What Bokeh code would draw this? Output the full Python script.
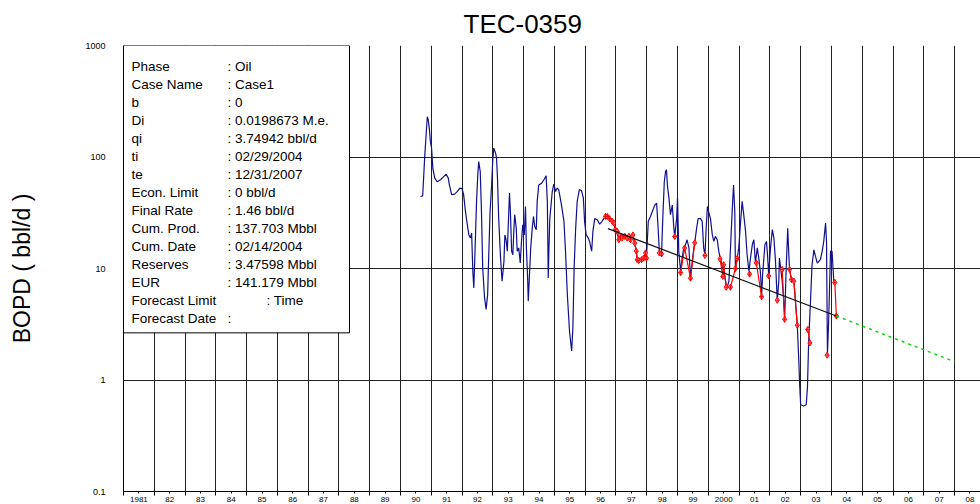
import math

from bokeh.core.properties import value
from bokeh.embed import file_html
from bokeh.models import FixedTicker, Range1d
from bokeh.plotting import figure
from bokeh.resources import INLINE

# ---------------- well production history (decimal year, bbl/d) ----------------
blue_t = [
    1990.65, 1990.72, 1990.79, 1990.87, 1990.90, 1990.94, 1990.97, 1991.01, 1991.05, 1991.11,
    1991.19, 1991.30, 1991.41, 1991.48, 1991.55, 1991.59, 1991.66, 1991.76, 1991.84, 1991.93,
    1992.00, 1992.05, 1992.11, 1992.17, 1992.22, 1992.27, 1992.31, 1992.35, 1992.38, 1992.41,
    1992.47, 1992.51, 1992.54, 1992.59, 1992.63, 1992.67, 1992.73, 1992.78, 1992.83, 1992.87,
    1992.91, 1992.96, 1993.00, 1993.03, 1993.09, 1993.12, 1993.15, 1993.19, 1993.25, 1993.30,
    1993.36, 1993.39, 1993.43, 1993.47, 1993.54, 1993.57, 1993.61, 1993.65, 1993.68, 1993.71,
    1993.76, 1993.79, 1993.84, 1993.89, 1993.93, 1993.97, 1994.02, 1994.06, 1994.09, 1994.13,
    1994.15, 1994.19, 1994.23, 1994.28, 1994.32, 1994.36, 1994.41, 1994.44, 1994.49, 1994.58,
    1994.66, 1994.73, 1994.77, 1994.80, 1994.82, 1994.85, 1994.93, 1994.98, 1995.04, 1995.09,
    1995.14, 1995.23, 1995.31, 1995.36, 1995.42, 1995.49, 1995.56, 1995.60, 1995.64, 1995.69,
    1995.74, 1995.81, 1995.88, 1995.94, 1995.98, 1996.03, 1996.10, 1996.14, 1996.21, 1996.25,
    1996.31, 1996.39, 1996.47, 1996.55, 1996.60, 1996.66, 1996.72, 1996.79, 1996.88, 1996.93,
    1996.98, 1997.04, 1997.09, 1997.15, 1997.20, 1997.29, 1997.36, 1997.42, 1997.47, 1997.55,
    1997.61, 1997.66, 1997.69, 1997.74, 1997.83, 1997.90, 1997.96, 1997.99, 1998.05, 1998.12,
    1998.18, 1998.26, 1998.32, 1998.37, 1998.41, 1998.48, 1998.52, 1998.57, 1998.61, 1998.64,
    1998.67, 1998.72, 1998.77, 1998.83, 1998.88, 1998.91, 1998.97, 1999.00, 1999.04, 1999.10,
    1999.15, 1999.20, 1999.26, 1999.31, 1999.37, 1999.42, 1999.53, 1999.56, 1999.62, 1999.67,
    1999.75, 1999.80, 1999.85, 1999.89, 1999.93, 1999.97, 2000.02, 2000.07, 2000.13, 2000.18,
    2000.23, 2000.29, 2000.34, 2000.40, 2000.45, 2000.50, 2000.56, 2000.61, 2000.67, 2000.72,
    2000.78, 2000.82, 2000.86, 2000.88, 2000.94, 2000.99, 2001.05, 2001.10, 2001.15, 2001.21,
    2001.26, 2001.32, 2001.37, 2001.43, 2001.48, 2001.53, 2001.59, 2001.64, 2001.70, 2001.73,
    2001.77, 2001.84, 2001.89, 2001.93, 2001.96, 2002.02, 2002.08, 2002.13, 2002.18, 2002.24,
    2002.29, 2002.31, 2002.35, 2002.40, 2002.45, 2002.48, 2002.53, 2002.58, 2002.62, 2002.64,
    2002.70, 2002.78, 2002.89, 2002.94, 2002.97, 2003.00, 2003.10, 2003.18, 2003.22, 2003.26,
    2003.32, 2003.37, 2003.43, 2003.48, 2003.54, 2003.59, 2003.64, 2003.70, 2003.75, 2003.81,
    2003.84, 2003.87, 2003.91, 2003.97, 2004.02, 2004.08,
]
blue_q = [
    44, 45, 105, 230, 217, 176, 138, 120, 79, 65,
    60, 62.5, 67, 70, 65, 56, 46, 46.5, 49, 52.6,
    52, 46, 32.5, 24.7, 20, 18.8, 20.8, 9.4, 6.7, 11.6,
    40, 69, 91, 74, 32.5, 10.1, 5.5, 4.3, 5.8, 14.3,
    32.5, 56, 97.5, 120, 108, 97, 65, 28, 12.4, 7.7,
    11.6, 20, 18, 14.3, 47.5, 32.5, 14.3, 13.3, 21.5, 30.4,
    23, 14.3, 15.3, 11.2, 17.5, 24.7, 20, 36, 15.3, 8.2,
    5.1, 8.8, 15.3, 23, 29.3, 23.8, 22.3, 40, 56, 58,
    62.5, 67.8, 40, 8.2, 14.3, 28, 49, 57, 49, 52.6,
    51, 37, 26.5, 14.3, 5.85, 2.74, 1.82, 2.93, 10.1, 23,
    40, 51, 50, 43, 26.5, 20, 18.8, 17.5, 14.3, 21.5,
    28, 27.4, 25, 26.5, 28, 29.3, 29.3, 28, 26.5, 25.6,
    22.3, 21.5, 18.1, 19.4, 18.8, 19.4, 18.8, 19.4, 18.1, 20,
    16.9, 14.3, 12, 11.8, 12, 12.4, 13.8, 12.4, 26.5, 29.3,
    32.5, 37, 38.5, 23, 13.8, 13.5, 28, 60, 74, 77,
    56, 43, 30.4, 37, 23, 19.4, 28, 43, 14.3, 9.4,
    12.4, 15.3, 16.4, 18.1, 15.3, 8.2, 15.3, 17, 23, 28,
    28, 26.5, 15.3, 13.1, 23, 36, 31.5, 28, 20, 17.5,
    19.4, 18.1, 14.3, 12, 10.8, 9.4, 7.7, 6.7, 7.7, 15.3,
    34.8, 56, 32.5, 10.1, 12.4, 15.3, 26.5, 40, 30.4, 21.5,
    13.3, 9.4, 12.4, 16.4, 18.1, 11.2, 15.3, 12.4, 8.8, 5.65,
    9.4, 16.4, 17.5, 12.4, 8.8, 15.3, 22.3, 18.8, 12, 5.1,
    7.7, 12.4, 10.1, 7.7, 5.1, 3.5, 10.1, 23, 12.4, 9.8,
    7.95, 7.7, 3.15, 1.48, 0.88, 0.6, 0.585, 0.6, 0.85, 2.23,
    5.1, 10.8, 14.7, 12.9, 11.2, 11.6, 12, 14.3, 17.5, 25.6,
    17.5, 1.7, 3.4, 14.3, 14.3, 7.4,
]

# points selected for the decline fit (gaps separate non-adjacent picks)
NAN = float("nan")
red_t = [
    1996.66, 1996.72, 1996.79, 1996.88, 1996.93, 1996.98, 1997.04, 1997.09, 1997.15, 1997.20,
    1997.29, 1997.36, 1997.42, 1997.47, 1997.55, 1997.61, 1997.66, 1997.69, 1997.74, 1997.83,
    1997.90, 1997.96, 1997.99, NAN,
    1998.41, 1998.48, NAN,
    1998.91, NAN,
    1999.10, 1999.23, 1999.42, 1999.56, NAN,
    1999.89, NAN,
    2000.38, 2000.47, 2000.50, 2000.58, 2000.72, 2000.88, 2000.94, NAN,
    2001.34, NAN,
    2001.56, 2001.73, NAN,
    2001.96, NAN,
    2002.24, NAN,
    2002.40, 2002.48, NAN,
    2002.64, 2002.70, 2002.78, 2002.89, NAN,
    2003.23, 2003.30, NAN,
    2003.86, NAN,
    2004.11, 2004.16,
]
red_q = [
    29.3, 29.3, 28, 26.5, 25.6, 22.3, 21.5, 18.1, 19.4, 18.8,
    19.4, 18.8, 19.4, 18.1, 20, 16.9, 14.3, 12, 11.8, 12,
    12.4, 13.8, 12.4, NAN,
    13.8, 13.5, NAN,
    19.4, NAN,
    9.2, 15.3, 8.2, 17, NAN,
    13.1, NAN,
    12.2, 8.5, 10.8, 6.8, 6.8, 10, 12.3, NAN,
    8.9, NAN,
    11.2, 5.6, NAN,
    8.6, NAN,
    5.2, NAN,
    9.8, 3.5, NAN,
    9.8, 7.95, 7.7, 3.1, NAN,
    2.84, 2.15, NAN,
    1.67, NAN,
    7.5, 3.74942,
]

# exponential decline fit and forecast to the end date
fit_t = [1996.74, 2004.16]
fit_q = [22.8, 3.74942]
forecast_t = [2004.16, 2008.0]
forecast_q = [3.74942, 1.46]

year_labels = ["1981"] + ["%02d" % (y % 100) for y in range(1982, 2000)] + ["2000"] + \
    ["%02d" % (y % 100) for y in range(2001, 2009)]
decade_ticks = [0.1, 1, 10, 100, 1000]
decade_labels = ["0.1", "1", "10", "100", "1000"]

info_labels = ["Phase", "Case Name", "b", "Di", "qi", "ti", "te", "Econ. Limit",
               "Final Rate", "Cum. Prod.", "Cum. Date", "Reserves", "EUR",
               "Forecast Limit", "Forecast Date"]
info_values = ["Oil", "Case1", "0", "0.0198673 M.e.", "3.74942 bbl/d", "02/29/2004",
               "12/31/2007", "0 bbl/d", "1.46 bbl/d", "137.703 Mbbl", "02/14/2004",
               "3.47598 Mbbl", "141.179 Mbbl", "Time", ""]

# ---------------- figure geometry ----------------
FONT = "Liberation Sans"
W, H = 980, 504
LEFT, TOP, BOTTOM = 123, 44, 13
FRAME_W = W - LEFT
FRAME_H = H - TOP - BOTTOM
X0 = 1981.0
X1 = X0 + FRAME_W / 30.78
Y0, Y1 = 0.1, 1000.0


def fx(px):
    """x data value at px pixels right of the frame's left edge"""
    return X0 + px / FRAME_W * (X1 - X0)


def fy(py):
    """y data value at py pixels below the frame's top edge"""
    lo, hi = math.log10(Y0), math.log10(Y1)
    return 10 ** (hi - py / FRAME_H * (hi - lo))


p = figure(width=W, height=H, x_range=Range1d(X0, X1), y_range=Range1d(Y0, Y1),
           y_axis_type="log", output_backend="svg", toolbar_location=None,
           min_border_left=LEFT, min_border_right=0, min_border_top=TOP,
           min_border_bottom=BOTTOM)
p.outline_line_color = None
p.background_fill_color = "white"
p.border_fill_color = "white"

# title
p.title.text = "TEC-0359"
p.title.text_font = FONT
p.title.text_font_size = "26px"
p.title.text_font_style = "normal"
p.title.text_color = "black"
p.title.align = "left"
p.title.offset = 340
p.title.standoff = 13

# grid: year boundaries and decades
GRID = "#222222"
p.xgrid.ticker = FixedTicker(ticks=list(range(1981, 2010)))
p.ygrid.ticker = FixedTicker(ticks=decade_ticks)
for g in (p.xgrid, p.ygrid):
    g.grid_line_color = GRID
    g.grid_line_width = 1
    g.grid_line_alpha = 1

# x axis: labels centred in each year, ticks at the boundaries
mid_years = [y + 0.5 for y in range(1981, 2009)]
xa = p.xaxis[0]
xa.ticker = FixedTicker(ticks=mid_years, minor_ticks=list(range(1981, 2010)))
xa.major_label_overrides = {t: lab for t, lab in zip(mid_years, year_labels)}
xa.major_label_text_font = FONT
xa.major_label_text_font_size = "8px"
xa.major_label_text_color = "black"
xa.major_label_standoff = 1
xa.major_tick_in = 0
xa.major_tick_out = 2
xa.minor_tick_in = 0
xa.minor_tick_out = 4
xa.axis_line_color = "black"
xa.major_tick_line_color = "black"
xa.minor_tick_line_color = "black"

# y axis
ya = p.yaxis[0]
ya.ticker = FixedTicker(ticks=decade_ticks)
ya.major_label_overrides = {t: lab for t, lab in zip(decade_ticks, decade_labels)}
ya.major_label_text_font = FONT
ya.major_label_text_font_size = "9px"
ya.major_label_text_color = "black"
ya.major_label_standoff = 18
ya.major_tick_in = 0
ya.major_tick_out = 0
ya.minor_tick_in = 0
ya.minor_tick_out = 0
ya.axis_line_color = "black"
ya.axis_label = "BOPD ( bbl/d )"
ya.axis_label_text_font = FONT
ya.axis_label_text_font_size = "23px"
ya.axis_label_text_font_style = "normal"
ya.axis_label_text_color = "black"
ya.axis_label_standoff = 47

# series
p.line(blue_t, blue_q, line_color="#10108c", line_width=1.2)
p.line(red_t, red_q, line_color="#ff0000", line_width=1.2)
p.scatter(red_t, red_q, marker="diamond_cross", size=6, line_color="#ff0000",
          fill_color="white", line_width=1)
p.line(fit_t, fit_q, line_color="#111111", line_width=1.2)
p.line(forecast_t, forecast_q, line_color="#00dd00", line_width=1.5, line_dash="3 4")

# parameter box
p.quad(left=[fx(0)], right=[fx(226)], top=[fy(0)], bottom=[fy(288)],
       fill_color="white", line_color="black", line_width=1)

ROW0, ROW_H = 21, 18.07
LABEL_PX, COLON_PX, WIDE_COLON_PX = 8, 104, 143
lab_x, lab_y, lab_s = [], [], []
for i, (lab, val) in enumerate(zip(info_labels, info_values)):
    y = fy(ROW0 + i * ROW_H)
    lab_x.append(fx(LABEL_PX)); lab_y.append(y); lab_s.append(lab)
    # labels too long for the value column push their value further right
    col = WIDE_COLON_PX if len(lab) > 13 else COLON_PX
    lab_x.append(fx(col)); lab_y.append(y); lab_s.append((": " + val).rstrip())
p.text(x=lab_x, y=lab_y, text=lab_s, text_font=value(FONT), text_font_size="13.5px",
       text_baseline="middle", text_align="left", text_color="black")

open("out.html", "w").write(file_html(p, INLINE))
